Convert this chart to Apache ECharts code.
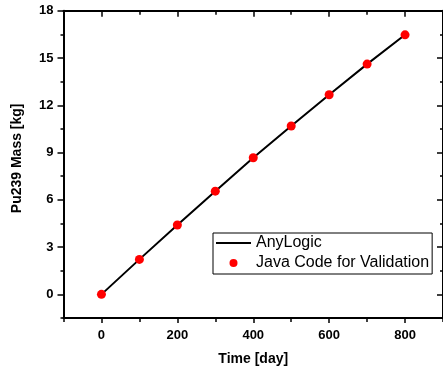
<!DOCTYPE html>
<html>
<head>
<meta charset="utf-8">
<script src="https://cdn.jsdelivr.net/npm/echarts@6/dist/echarts.min.js"></script>
<style>
  html, body { margin: 0; padding: 0; background: #fff; }
  #chart { width: 443px; height: 371px; }
</style>
</head>
<body>
<div id="chart"></div>
<script>
// time points (day)
const days = [0, 100, 200, 300, 400, 500, 600, 700, 800];
// Pu239 mass [kg]
const anyLogicMass = [0, 2.22, 4.40, 6.55, 8.67, 10.68, 12.67, 14.61, 16.47];
const javaMass = [0, 2.22, 4.40, 6.55, 8.67, 10.68, 12.67, 14.61, 16.47];

const xMajor = [0, 200, 400, 600, 800];
const xMinor = [-100, 100, 300, 500, 700, 900];
const yMajor = [0, 3, 6, 9, 12, 15, 18];
const yMinor = [-1.5, 1.5, 4.5, 7.5, 10.5, 13.5, 16.5];

const font = 'Liberation Sans, Arial, sans-serif';
const black = '#000';

function xAx(pos, ticks, len, inside, showLine, labels) {
  return {
    type: 'value', position: pos, min: -100, max: 900,
    axisLine: { show: showLine, onZero: false, lineStyle: { color: black, width: 2 } },
    axisTick: { show: true, inside: inside, length: len, customValues: ticks, lineStyle: { color: black, width: 1.5 } },
    axisLabel: labels ? { show: true, customValues: ticks, margin: 11, color: black, fontFamily: font, fontWeight: 'bold', fontSize: 13 } : { show: false },
    splitLine: { show: false }
  };
}
function yAx(pos, ticks, len, inside, showLine, labels) {
  return {
    type: 'value', position: pos, min: -1.5, max: 18,
    axisLine: { show: showLine, onZero: false, lineStyle: { color: black, width: 2 } },
    axisTick: { show: true, inside: inside, length: len, customValues: ticks, lineStyle: { color: black, width: 1.5 } },
    axisLabel: labels ? { show: true, customValues: ticks, margin: 10, color: black, fontFamily: font, fontWeight: 'bold', fontSize: 13 } : { show: false },
    splitLine: { show: false }
  };
}

const xAxes = [
  xAx('bottom', xMajor, 5, false, true, true),
  xAx('bottom', xMinor, 4, false, false, false),
  xAx('top', xMajor, 6, true, true, false),
  xAx('top', xMinor, 4, true, false, false)
];
xAxes[0].name = 'Time [day]';
xAxes[0].nameLocation = 'middle';
xAxes[0].nameGap = 34;
xAxes[0].nameTextStyle = { color: black, fontFamily: font, fontWeight: 'bold', fontSize: 14 };

const yAxes = [
  yAx('left', yMajor, 6, false, true, true),
  yAx('left', yMinor, 3, false, false, false),
  yAx('right', yMajor, 6, true, true, false),
  yAx('right', yMinor, 3, true, false, false)
];
yAxes[0].name = 'Pu239 Mass [kg]';
yAxes[0].nameLocation = 'middle';
yAxes[0].nameGap = 39;
yAxes[0].nameTextStyle = { color: black, fontFamily: font, fontWeight: 'bold', fontSize: 14, padding: [0, 0, 0, 12] };

const chart = echarts.init(document.getElementById('chart'), null, { renderer: 'canvas' });
chart.setOption({
  animation: false,
  backgroundColor: '#fff',
  grid: { left: 63.5, top: 10.7, width: 381.3, height: 307.5, containLabel: false },
  xAxis: xAxes,
  yAxis: yAxes,
  legend: {
    orient: 'vertical', left: 213, top: 233,
    padding: [2, 3, 3, 2],
    borderColor: black, borderWidth: 1,
    itemWidth: 35, itemHeight: 8, itemGap: 4,
    textStyle: { color: black, fontFamily: font, fontSize: 16, lineHeight: 16 },
    data: [
      { name: 'AnyLogic', itemStyle: { opacity: 0 } },
      { name: 'Java Code for Validation', icon: 'circle' }
    ]
  },
  series: [
    {
      name: 'AnyLogic', type: 'line',
      data: days.map((d, i) => [d, anyLogicMass[i]]),
      symbol: 'none',
      lineStyle: { color: black, width: 2 },
      itemStyle: { color: black },
      z: 2
    },
    {
      name: 'Java Code for Validation', type: 'scatter',
      data: days.map((d, i) => [d, javaMass[i]]),
      symbol: 'circle', symbolSize: 9,
      itemStyle: { color: '#ff0000', opacity: 1 },
      z: 3
    }
  ]
});
</script>
</body>
</html>
